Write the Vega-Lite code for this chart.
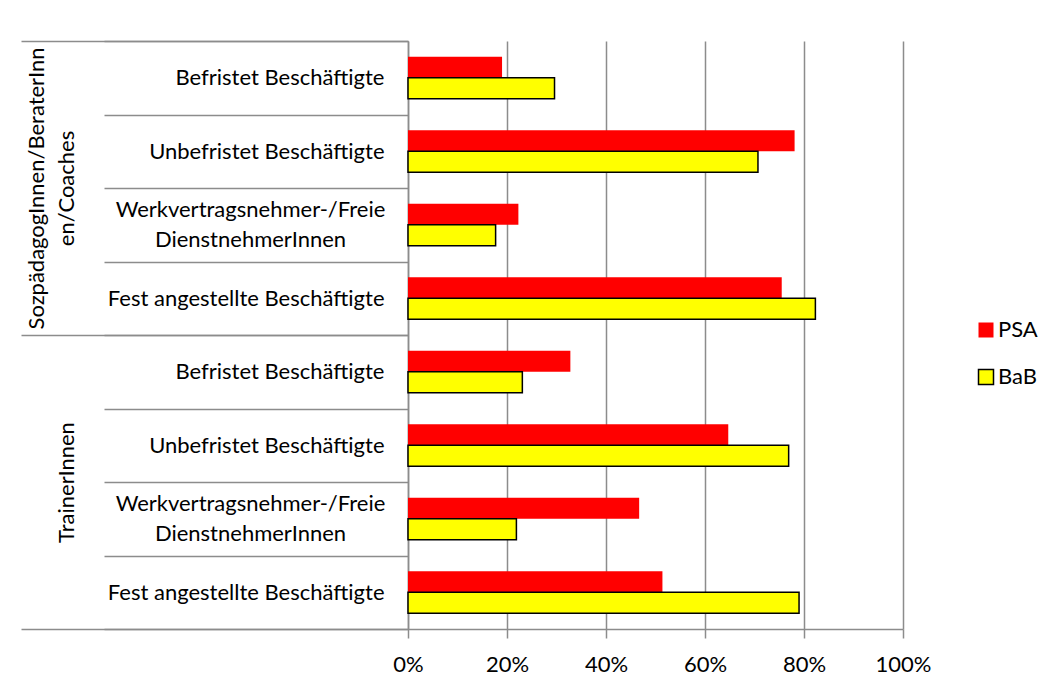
{
  "$schema": "https://vega.github.io/schema/vega-lite/v6.json",
  "width": 495,
  "height": 588,
  "autosize": "none",
  "padding": {"left": 408, "top": 41, "right": 152, "bottom": 59},
  "config": {"font": "Lato", "view": {"stroke": null}},
  "data": {
    "values": [
      {"category": "SozpädagogInnen/BeraterInn\nen/Coaches|Befristet Beschäftigte", "series": "PSA", "value": 0.19},
      {"category": "SozpädagogInnen/BeraterInn\nen/Coaches|Befristet Beschäftigte", "series": "BaB", "value": 0.296},
      {"category": "SozpädagogInnen/BeraterInn\nen/Coaches|Unbefristet Beschäftigte", "series": "PSA", "value": 0.781},
      {"category": "SozpädagogInnen/BeraterInn\nen/Coaches|Unbefristet Beschäftigte", "series": "BaB", "value": 0.707},
      {"category": "SozpädagogInnen/BeraterInn\nen/Coaches|Werkvertragsnehmer-/Freie\nDienstnehmerInnen", "series": "PSA", "value": 0.223},
      {"category": "SozpädagogInnen/BeraterInn\nen/Coaches|Werkvertragsnehmer-/Freie\nDienstnehmerInnen", "series": "BaB", "value": 0.177},
      {"category": "SozpädagogInnen/BeraterInn\nen/Coaches|Fest angestellte Beschäftigte", "series": "PSA", "value": 0.755},
      {"category": "SozpädagogInnen/BeraterInn\nen/Coaches|Fest angestellte Beschäftigte", "series": "BaB", "value": 0.823},
      {"category": "TrainerInnen|Befristet Beschäftigte", "series": "PSA", "value": 0.328},
      {"category": "TrainerInnen|Befristet Beschäftigte", "series": "BaB", "value": 0.231},
      {"category": "TrainerInnen|Unbefristet Beschäftigte", "series": "PSA", "value": 0.647},
      {"category": "TrainerInnen|Unbefristet Beschäftigte", "series": "BaB", "value": 0.769},
      {"category": "TrainerInnen|Werkvertragsnehmer-/Freie\nDienstnehmerInnen", "series": "PSA", "value": 0.467},
      {"category": "TrainerInnen|Werkvertragsnehmer-/Freie\nDienstnehmerInnen", "series": "BaB", "value": 0.219},
      {"category": "TrainerInnen|Fest angestellte Beschäftigte", "series": "PSA", "value": 0.514},
      {"category": "TrainerInnen|Fest angestellte Beschäftigte", "series": "BaB", "value": 0.79}
    ]
  },
  "layer": [
    {
      "mark": {"type": "bar", "strokeWidth": 1.5},
      "encoding": {
        "y": {
          "field": "category",
          "type": "nominal",
          "sort": null,
          "scale": {"paddingInner": 0, "paddingOuter": 0},
          "axis": {
            "orient": "left",
            "title": null,
            "grid": false,
            "domain": true,
            "domainColor": "#8c8c8c",
            "domainWidth": 1.5,
            "ticks": true,
            "tickBand": "extent",
            "tickSize": 304,
            "tickColor": "#8c8c8c",
            "tickWidth": 1.5,
            "labelFontSize": 22,
            "labelColor": "#000000",
            "labelLimit": 400,
            "labelOverlap": false,
            "labelLineHeight": 30,
            "labelBaseline": "middle",
            "labelExpr": "isString(datum.value) ? split(split(datum.value, '|')[1], '\\n') : ''",
            "labelAlign": {"condition": {"test": "isString(datum.value) && indexof(datum.value, '|Werk') >= 0", "value": "center"}, "value": "right"},
            "labelPadding": {"condition": {"test": "isString(datum.value) && indexof(datum.value, '|Werk') >= 0", "value": -146}, "value": -280},
            "labelOffset": {"condition": {"test": "isString(datum.value) && indexof(datum.value, '|Werk') >= 0", "value": -15}, "value": 0}
          }
        },
        "yOffset": {
          "field": "series",
          "type": "nominal",
          "sort": ["PSA", "BaB"],
          "scale": {"paddingInner": 0, "paddingOuter": 0.75}
        },
        "x": {
          "field": "value",
          "type": "quantitative",
          "scale": {"domain": [0, 1], "nice": false},
          "axis": {
            "title": null,
            "format": ".0%",
            "values": [0, 0.2, 0.4, 0.6, 0.8, 1],
            "grid": true,
            "gridColor": "#8c8c8c",
            "gridWidth": 1.5,
            "domainColor": "#8c8c8c",
            "domainWidth": 1.5,
            "tickColor": "#8c8c8c",
            "tickWidth": 1.5,
            "tickSize": 9,
            "labelFontSize": 22,
            "labelColor": "#000000",
            "labelPadding": 16,
            "labelFlush": false
          }
        },
        "fill": {
          "field": "series",
          "type": "nominal",
          "scale": {"domain": ["PSA", "BaB"], "range": ["#FF0000", "#FFFF00"]},
          "legend": {
            "title": null,
            "orient": "none",
            "legendX": 567,
            "legendY": 278,
            "symbolType": "square",
            "symbolSize": 225,
            "symbolStrokeWidth": 1.5,
            "labelFontSize": 22,
            "labelColor": "#000000",
            "labelOffset": 1,
            "rowPadding": 25,
            "padding": 0
          }
        },
        "stroke": {
          "field": "series",
          "type": "nominal",
          "scale": {"domain": ["PSA", "BaB"], "range": ["transparent", "#000000"]},
          "legend": {
            "title": null,
            "orient": "none",
            "legendX": 567,
            "legendY": 278,
            "symbolType": "square",
            "symbolSize": 225,
            "symbolStrokeWidth": 1.5,
            "labelFontSize": 22,
            "labelColor": "#000000",
            "labelOffset": 1,
            "rowPadding": 25,
            "padding": 0
          }
        }
      }
    },
    {
      "mark": {"type": "bar", "opacity": 0},
      "encoding": {
        "y": {
          "field": "category",
          "type": "nominal",
          "sort": null,
          "axis": {
            "orient": "left",
            "title": null,
            "grid": false,
            "domain": false,
            "ticks": true,
            "tickBand": "extent",
            "tickSize": 387,
            "tickColor": "#8c8c8c",
            "tickWidth": 1.5,
            "tickOpacity": {"condition": {"test": "!isString(datum.value) || indexof(datum.value, '|Fest') >= 0", "value": 1}, "value": 0},
            "labelAngle": 270,
            "labelAlign": "center",
            "labelBaseline": "bottom",
            "labelPadding": {"condition": {"test": "isString(datum.value) && indexof(split(datum.value, '|')[0], '\\n') >= 0", "value": -27}, "value": -57},
            "labelOffset": 36.75,
            "labelFontSize": 22,
            "labelColor": "#000000",
            "labelLineHeight": 30,
            "labelLimit": 400,
            "labelOverlap": false,
            "labelExpr": "isString(datum.value) && indexof(datum.value, '|Unbefristet') >= 0 ? split(split(datum.value, '|')[0], '\\n') : ''"
          }
        },
        "x": {"field": "value", "type": "quantitative"}
      }
    }
  ],
  "resolve": {"axis": {"y": "independent"}}
}
